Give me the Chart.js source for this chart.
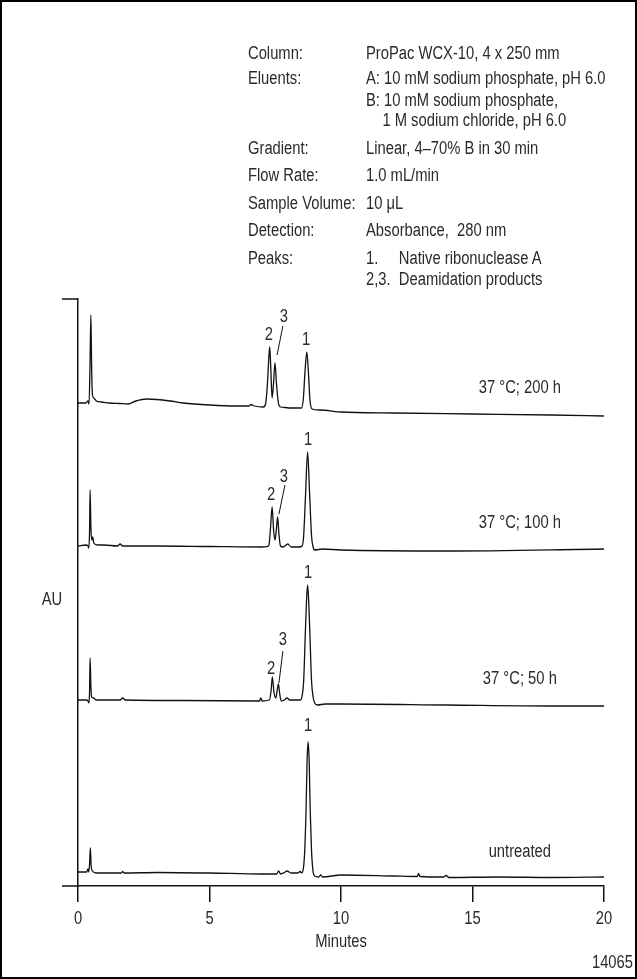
<!DOCTYPE html>
<html>
<head>
<meta charset="utf-8">
<script src="https://cdn.jsdelivr.net/npm/chart.js@4"></script>
<style>
  html, body { margin: 0; padding: 0; background: #fff; }
  #wrap { position: relative; width: 637px; height: 979px; overflow: hidden; }
  #frame { position: absolute; left: 0; top: 0; width: 637px; height: 979px; box-sizing: border-box; border: 2px solid #000; pointer-events: none; }
  #chart { position: absolute; left: 0; top: 0; }
  .info { position: absolute; font-family: 'Liberation Sans', Arial, sans-serif; font-size: 18px; color: #2a2a2a; line-height: 20px; white-space: pre; transform: scaleX(0.82); transform-origin: 0 0; }
</style>
</head>
<body>
<div id="wrap">
  <canvas id="chart" width="637" height="979"></canvas>
  <div id="info"></div>
  <div id="frame"></div>
</div>
<script>
// retention time (min) and detector signal for each run (offset stack, arbitrary AU)
const t200 = [0,0.3,0.38,0.42,0.46,0.49,0.52,0.55,0.6,0.7,0.9,1.2,1.6,1.9,2.2,2.6,3.0,3.5,4.0,5.0,6.0,6.5,6.58,6.7,7.05,7.13,7.2,7.25,7.29,7.33,7.38,7.43,7.49,7.55,7.62,7.7,7.88,8.05,8.5,8.57,8.63,8.7,8.76,8.82,8.9,9.2,10,12,15,18,20];
const au200 = [48.3,48.3,48.5,48.2,52.6,57.1,51.6,49.1,48.8,48.5,48.4,48.3,48.25,48.2,48.5,48.7,48.65,48.5,48.3,48.1,48.0,48.0,48.15,48.0,47.9,48.2,50.1,52.6,53.9,51.8,48.8,50.1,52.3,50.1,48.3,47.9,47.85,47.8,47.8,48.8,51.4,53.4,51.4,48.6,47.7,47.6,47.4,47.3,47.2,47.1,47.0];

const t100 = [0,0.3,0.38,0.41,0.44,0.46,0.49,0.52,0.56,0.6,0.75,1.0,1.5,1.6,1.7,3,5,7,7.2,7.26,7.32,7.38,7.44,7.49,7.54,7.59,7.64,7.7,7.8,7.98,8.1,8.4,8.52,8.58,8.65,8.73,8.81,8.88,8.94,9.0,9.3,10,14,20];
const au100 = [34.0,34.1,34.0,33.8,35.5,39.6,36.0,34.6,34.9,34.3,34.1,34.1,34.0,34.2,34.0,34.0,33.95,33.9,33.95,34.1,35.8,37.9,35.5,34.6,35.6,36.9,35.2,34.0,33.9,34.2,33.9,33.9,34.0,35.0,39.0,43.4,39.0,35.0,33.9,33.6,33.7,33.6,33.5,33.7];

const t50 = [0,0.3,0.38,0.42,0.44,0.46,0.49,0.52,0.58,0.7,1.0,1.6,1.7,1.8,4,6.9,6.95,7.0,7.28,7.34,7.39,7.45,7.52,7.57,7.62,7.67,7.73,7.85,7.95,8.05,8.3,8.45,8.52,8.58,8.64,8.69,8.73,8.77,8.82,8.88,8.94,9.0,9.1,9.4,10,14,18,20];
const au50 = [18.6,18.6,18.5,18.3,19.5,22.8,20.0,18.9,18.8,18.6,18.6,18.6,18.8,18.6,18.55,18.5,18.8,18.5,18.6,19.5,20.9,19.4,18.8,19.5,20.2,19.2,18.5,18.6,18.8,18.6,18.6,18.6,19.0,20.5,25.0,28.6,30.1,28.6,25.0,20.5,18.9,18.3,18.1,18.2,18.2,18.1,18.0,18.0];

const tUn = [0,0.33,0.38,0.41,0.44,0.47,0.5,0.55,0.7,1.0,1.65,1.7,1.75,3,5,7,7.55,7.63,7.7,7.85,7.95,8.1,8.35,8.45,8.5,8.56,8.62,8.67,8.71,8.75,8.79,8.83,8.88,8.94,9.0,9.15,9.23,9.3,10,12,12.9,12.95,13.0,13.9,14,14.1,16,18,20];
const auUn = [1.4,1.4,1.7,1.4,2.2,3.8,2.0,1.5,1.3,1.3,1.3,1.45,1.3,1.35,1.3,1.2,1.2,1.5,1.2,1.35,1.5,1.3,1.3,1.45,1.3,1.6,3.5,7.5,12.5,14.4,12.5,7.5,3.5,1.4,1.0,0.9,1.1,0.9,1.1,1.0,0.95,1.25,0.95,0.9,1.05,0.85,0.9,0.85,0.9];

const xTicks = [0, 5, 10, 15, 20];

// run labels: text, x (min), y (AU)
const runLabels = [
  ['37 °C; 200 h', 16.8, 49.8],
  ['37 °C; 100 h', 16.8, 36.3],
  ['37 °C; 50 h', 16.8, 20.7],
  ['untreated', 16.8, 3.4]
];
// peak numbers: text, x, y
const peakLabels = [
  ['1', 8.67, 54.6], ['2', 7.26, 55.1], ['3', 7.83, 56.9],
  ['1', 8.75, 44.6], ['2', 7.34, 39.1], ['3', 7.83, 40.9],
  ['1', 8.75, 31.3], ['2', 7.34, 21.7], ['3', 7.79, 24.6],
  ['1', 8.75, 16.0]
];
// leader lines for peak 3: x1, y1, x2, y2
const leaders = [
  [7.79, 56.0, 7.57, 53.1],
  [7.87, 40.1, 7.64, 37.2],
  [7.79, 23.5, 7.64, 20.3]
];

const infoRows = [
  ['Column:', 'ProPac WCX-10, 4 x 250 mm', 53],
  ['Eluents:', 'A: 10 mM sodium phosphate, pH 6.0', 78],
  ['', 'B: 10 mM sodium phosphate,', 100],
  ['', '    1 M sodium chloride, pH 6.0', 120],
  ['Gradient:', 'Linear, 4–70% B in 30 min', 148],
  ['Flow Rate:', '1.0 mL/min', 175],
  ['Sample Volume:', '10 μL', 203],
  ['Detection:', 'Absorbance,  280 nm', 230],
  ['Peaks:', '1.     Native ribonuclease A', 258],
  ['', '2,3.  Deamidation products', 279]
];

const FONT = "'Liberation Sans', Arial, sans-serif";
const INK = '#2a2a2a';
const SQUEEZE = 0.82;

const info = document.getElementById('info');
infoRows.forEach(([label, value, y]) => {
  const a = document.createElement('div');
  a.className = 'info';
  a.style.left = '248px';
  a.style.top = (y - 10) + 'px';
  a.textContent = label;
  info.appendChild(a);
  const b = document.createElement('div');
  b.className = 'info';
  b.style.left = '366px';
  b.style.top = (y - 10) + 'px';
  b.textContent = value;
  info.appendChild(b);
});

const toPoints = (xs, ys) => xs.map((x, i) => ({ x: x, y: ys[i] }));
const trace = (xs, ys) => ({
  data: toPoints(xs, ys),
  borderColor: '#111',
  borderWidth: 1.3,
  pointRadius: 0,
  cubicInterpolationMode: 'monotone'
});

// narrow text, like the condensed face of the original
function label(ctx, s, x, y, align) {
  ctx.save();
  ctx.translate(x, y);
  ctx.scale(SQUEEZE, 1);
  ctx.textAlign = align || 'center';
  ctx.fillText(s, 0, 0);
  ctx.restore();
}

const decor = {
  id: 'decor',
  afterDraw(chart) {
    const ctx = chart.ctx;
    const xs = chart.scales.x, ys = chart.scales.y;
    const px = v => xs.getPixelForValue(v);
    const py = v => ys.getPixelForValue(v);
    ctx.save();
    ctx.strokeStyle = '#111';
    ctx.lineWidth = 1.5;
    // axis stubs left of the y axis
    ctx.beginPath();
    ctx.moveTo(xs.left - 16, ys.bottom);
    ctx.lineTo(xs.left, ys.bottom);
    ctx.moveTo(xs.left - 16, ys.top);
    ctx.lineTo(xs.left, ys.top);
    ctx.stroke();

    ctx.lineWidth = 1;
    ctx.beginPath();
    leaders.forEach(([x1, y1, x2, y2]) => {
      ctx.moveTo(px(x1), py(y1));
      ctx.lineTo(px(x2), py(y2));
    });
    ctx.stroke();

    ctx.fillStyle = INK;
    ctx.font = '18px ' + FONT;
    ctx.textBaseline = 'middle';
    runLabels.forEach(([s, x, y]) => label(ctx, s, px(x), py(y)));
    peakLabels.forEach(([s, x, y]) => label(ctx, s, px(x), py(y)));
    xs.ticks.forEach(t => label(ctx, String(t.value), px(t.value), ys.bottom + 33));
    label(ctx, 'AU', xs.left - 26, py(28.6));
    label(ctx, 'Minutes', px(10), ys.bottom + 56);
    label(ctx, '14065', chart.width - 4, ys.bottom + 77, 'right');
    ctx.restore();
  }
};

new Chart(document.getElementById('chart'), {
  type: 'line',
  data: {
    datasets: [trace(t200, au200), trace(t100, au100), trace(t50, au50), trace(tUn, auUn)]
  },
  options: {
    responsive: false,
    animation: false,
    layout: { padding: { left: 78, right: 33, top: 299, bottom: 0 } },
    plugins: { legend: { display: false }, tooltip: { enabled: false } },
    scales: {
      x: {
        type: 'linear',
        min: 0,
        max: 20,
        afterBuildTicks: s => { s.ticks = xTicks.map(v => ({ value: v })); },
        afterFit: s => { s.height = 93; },
        ticks: { color: 'rgba(0,0,0,0)', font: { family: FONT, size: 18 }, padding: 6, maxRotation: 0 },
        grid: { drawOnChartArea: false, drawTicks: true, tickLength: 16, color: '#111', lineWidth: 1.5 },
        border: { color: '#111', width: 1.5 }
      },
      y: {
        min: 0,
        max: 58.7,
        afterFit: s => { s.width = 0; },
        ticks: { display: false },
        grid: { display: false },
        border: { color: '#111', width: 1.5 }
      }
    }
  },
  plugins: [decor]
});
</script>
</body>
</html>
